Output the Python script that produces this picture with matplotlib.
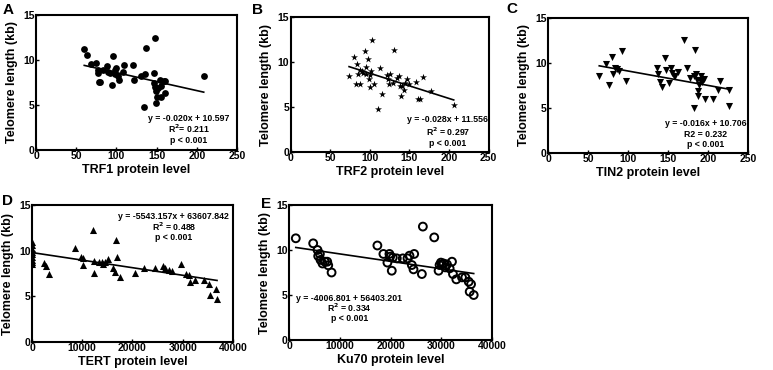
import numpy as np
import matplotlib
matplotlib.use('Agg')
import matplotlib.pyplot as plt

plt.rcParams['font.family'] = ['Liberation Sans', 'DejaVu Sans']
plt.rcParams['font.weight'] = 'bold'

# panel A: TRF1
trf1_x = [60, 64, 68, 74.5, 76.6, 77, 78, 79, 83.6, 87.7, 90, 92, 94, 96, 98, 98, 100, 102,
          103, 108, 110, 121, 122, 131, 135, 134, 137, 146.5, 148, 146.5, 148, 149, 150, 149,
          152, 154, 156, 156, 159, 160, 161, 208.6]
trf1_y = [11.2, 10.6, 9.5, 9.7, 8.9, 8.6, 7.6, 7.5, 8.9, 9.3, 8.7, 8.5, 7.2, 10.4, 8.9, 8.4,
          9.1, 8.2, 7.8, 8.7, 9.4, 9.4, 7.8, 8.2, 8.4, 4.8, 11.3, 8.6, 12.4, 7.4, 7.0, 6.5,
          5.9, 5.2, 6.9, 7.8, 7.1, 5.9, 7.7, 7.7, 6.3, 8.2]

# panel B: TRF2
trf2_x = [73.8, 79.7, 82.2, 83.9, 85.6, 87.2, 88, 89.8, 91.4, 93.9, 94.8, 95.6, 98, 99, 100,
          100.7, 102, 103, 105, 110, 113, 115, 121.6, 123, 124, 125, 129, 131, 134, 137, 138,
          140, 141, 142.6, 145, 147, 149, 158.6, 161.5, 163, 167, 177, 206]
trf2_y = [8.4, 10.6, 7.55, 9.8, 8.7, 9.1, 7.55, 9.0, 8.8, 11.2, 9.5, 8.7, 10.3, 8.1, 7.2,
          8.56, 9.0, 12.4, 7.6, 4.8, 9.3, 6.5, 8.56, 8.1, 7.55, 8.7, 7.7, 11.3, 8.2, 8.4, 7.3,
          6.2, 7.3, 6.9, 7.7, 8.1, 7.55, 7.8, 5.85, 5.85, 8.3, 6.8, 5.2]

# panel C: TIN2
tin2_x = [64, 73, 76.7, 80, 81, 84, 86, 89, 92.5, 97.5, 136.7, 137.5, 140, 143, 146.7, 148,
          151.7, 154, 155, 157, 159, 162, 169.6, 174, 178, 182, 183, 184, 185, 186, 187.5,
          188, 189, 190, 191.7, 193, 194.6, 196.7, 206, 213, 215, 226, 226]
tin2_y = [8.5, 9.9, 7.6, 10.7, 8.8, 9.4, 9.3, 9.1, 11.3, 8.0, 9.4, 8.8, 7.85, 7.3, 10.6, 9.2,
          7.8, 9.4, 8.9, 8.5, 8.5, 9.0, 12.5, 9.4, 8.3, 8.5, 5.0, 11.4, 8.8, 8.1, 6.85, 6.3,
          7.6, 8.1, 8.5, 7.85, 8.2, 6.0, 6.0, 6.96, 7.96, 7.0, 5.26]

# panel D: TERT
tert_x = [0, 0, 0, 0, 0, 0, 0, 0, 0, 2314, 2843, 3306, 8595, 9719, 10116, 10248, 12231,
          12364, 12364, 13421, 13884, 14215, 14545, 15207, 16198, 16529, 16727, 16992, 17520,
          20496, 22281, 24463, 25983, 26446, 27306, 27769, 29752, 30612, 31273, 31537, 32397,
          34182, 35240, 35372, 36562, 36826]
tert_y = [11.0, 10.6, 10.2, 9.9, 9.6, 9.3, 9.0, 8.8, 8.5, 8.67, 8.3, 7.4, 10.35, 9.26, 9.15,
          8.4, 12.26, 8.9, 7.57, 8.8, 8.8, 8.6, 8.8, 9.04, 8.16, 7.68, 11.16, 9.26, 7.13,
          7.57, 8.16, 8.16, 8.3, 8.16, 7.87, 7.79, 8.6, 7.43, 7.32, 6.59, 6.77, 6.84, 6.33,
          5.12, 5.85, 4.76]

# panel E: Ku70
ku70_x = [1318, 4745, 5601, 5733, 6063, 6195, 6590, 7051, 7512, 7710, 8369, 17397, 18583,
          19374, 19770, 19901, 20231, 20428, 21219, 22405, 23328, 23723, 24185, 24514, 24646,
          26359, 26161, 28600, 29456, 29654, 29918, 30115, 30445, 30775, 31104, 31632, 32093,
          32291, 32950, 34070, 34729, 35388, 35586, 35850, 36377]
ku70_y = [11.3, 10.74, 10.0, 9.33, 9.56, 8.9, 8.5, 8.7, 8.7, 8.3, 7.5, 10.5, 9.56, 8.6,
          9.56, 9.26, 7.7, 9.15, 9.07, 9.07, 9.07, 9.37, 8.33, 7.85, 9.56, 12.6, 7.33, 11.4,
          7.7, 8.33, 8.6, 8.4, 8.5, 8.07, 8.4, 7.96, 8.7, 7.33, 6.74, 6.96, 6.96, 6.48, 5.37,
          6.2, 5.0]

fit_slope = [-0.020, -0.028, -0.016, -8.3e-5, -8.26e-5]
fit_intercept = [10.597, 11.556, 10.706, 9.8, 10.39]

letters = ['A', 'B', 'C', 'D', 'E']
xlabels = ['TRF1 protein level', 'TRF2 protein level', 'TIN2 protein level',
           'TERT protein level', 'Ku70 protein level']
stats = [['y = -0.020x + 10.597', 'R$^2$= 0.211', 'p < 0.001'],
         ['y = -0.028x + 11.556', 'R$^2$ = 0.297', 'p < 0.001'],
         ['y = -0.016x + 10.706', 'R2 = 0.232', 'p < 0.001'],
         ['y = -5543.157x + 63607.842', 'R$^2$ = 0.488', 'p < 0.001'],
         ['y = -4006.801 + 56403.201', 'R$^2$ = 0.334', 'p < 0.001']]

xs = [trf1_x, trf2_x, tin2_x, tert_x, ku70_x]
ys = [trf1_y, trf2_y, tin2_y, tert_y, ku70_y]

# layout (figure fractions)
rects = [[0.0466, 0.5946, 0.260, 0.365],
         [0.376, 0.589, 0.256, 0.365],
         [0.709, 0.5865, 0.2587, 0.365],
         [0.0414, 0.0757, 0.260, 0.370],
         [0.374, 0.081, 0.2626, 0.365]]
xmax = [250, 250, 250, 40000, 40000]
xstep = [50, 50, 50, 10000, 10000]
stat_pos = [(0.76, [0.23, 0.155, 0.067]),
            (0.795, [0.244, 0.148, 0.06]),
            (0.79, [0.222, 0.14, 0.06]),
            (0.706, [0.92, 0.84, 0.766]),
            (0.296, [0.311, 0.237, 0.163])]
letter_pos = [(0.004, 0.993), (0.326, 0.993), (0.655, 0.995), (0.003, 0.477), (0.338, 0.468)]

fig = plt.figure(figsize=(7.73, 3.70), dpi=100)

for i in range(5):
    ax = fig.add_axes(rects[i])
    x = np.array(xs[i])
    y = np.array(ys[i])
    if i == 0:
        ax.scatter(x, y, s=24, c='black', marker='o', linewidths=0, zorder=3)
    elif i == 1:
        ax.scatter(x, y, s=28, c='black', marker='*', linewidths=0, zorder=3)
    elif i == 2:
        ax.scatter(x, y, s=26, c='black', marker='v', linewidths=0, zorder=3)
    elif i == 3:
        ax.scatter(x, y, s=26, c='black', marker='^', linewidths=0, zorder=3)
    else:
        ax.scatter(x, y, s=32, facecolors='none', edgecolors='black', marker='o',
                   linewidths=1.4, zorder=3)

    xl = np.array([x.min(), x.max()])
    ax.plot(xl, fit_slope[i] * xl + fit_intercept[i], color='black', lw=1.2, zorder=2)

    ax.set_xlim(0, xmax[i])
    ax.set_ylim(0, 15)
    ax.set_xticks(np.arange(0, xmax[i] + 1, xstep[i]))
    ax.set_yticks([0, 5, 10, 15])
    ax.tick_params(direction='in', length=2, width=1, labelsize=7.5, pad=1)
    for lab in ax.get_xticklabels() + ax.get_yticklabels():
        lab.set_fontweight('bold')
    for sp in ax.spines.values():
        sp.set_linewidth(1.5)
    ax.set_xlabel(xlabels[i], fontsize=9, fontweight='bold', labelpad=2)
    ax.set_ylabel('Telomere length (kb)', fontsize=9, fontweight='bold', labelpad=4)

    sx, sys_ = stat_pos[i]
    for t, yy in zip(stats[i], sys_):
        ax.text(sx, yy, t, transform=ax.transAxes, ha='center', va='center',
                fontsize=6.3, fontweight='bold')

    fig.text(letter_pos[i][0], letter_pos[i][1], letters[i], fontsize=11,
             fontweight='bold', ha='left', va='top')

fig.savefig('out.png', dpi=100)
